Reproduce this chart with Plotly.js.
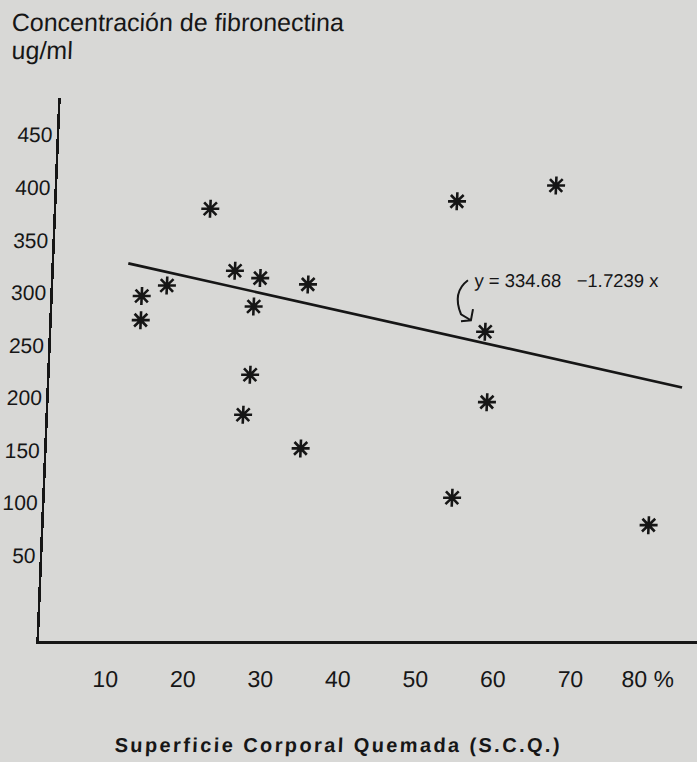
<!DOCTYPE html>
<html>
<head>
<meta charset="utf-8">
<script src="https://cdn.plot.ly/plotly-3.0.1.min.js"></script>
<style>
html,body{margin:0;padding:0;background:#d8d8d6;overflow:hidden;width:697px;height:762px;}
#chart{position:absolute;left:-40px;top:0;width:777px;height:762px;transform:skewX(-2.3deg);transform-origin:0 640px;}
</style>
</head>
<body>
<div id="chart"></div>
<script>
// Superficie corporal quemada (%) vs concentración de fibronectina (ug/ml)
const scqPercent = [21.1, 24.6, 27.9, 34.1, 15.9, 12.7, 12.7, 27.2, 27.1, 26.4, 34.0, 52.9, 65.6, 57.2, 57.8, 53.8, 79.3];
const fibronectina = [380, 321, 314, 308, 307, 297, 274, 287, 222, 184, 152, 387, 402, 263, 196, 105, 79];

// regression line as drawn
const lineX = [10.8, 82.9];
const lineY = [328, 210];

const xTickVals = [10, 20, 30, 40, 50, 60, 70, 80];
const xTickText = ['10', '20', '30', '40', '50', '60', '70', '80 %'];
const yTickVals = [50, 100, 150, 200, 250, 300, 350, 400, 450];
const yTickText = ['50', '100', '150', '200', '250', '300', '350', '400', '450'];

const yTitle1 = 'Concentración de fibronectina';
const yTitle2 = 'ug/ml';
const xTitle = 'Superficie Corporal Quemada (S.C.Q.)';
const equation = 'y = 334.68\u00A0\u00A0 \u22121.7239 x';

const ink = '#161616';
const bg = '#d8d8d6';
const FONT = '"Liberation Sans", Arial, Helvetica, sans-serif';

const traces = [
  {
    type: 'scatter', mode: 'lines', x: lineX, y: lineY,
    line: {color: ink, width: 2.6}, hoverinfo: 'skip'
  },
  {
    type: 'scatter', mode: 'markers', x: scqPercent, y: fibronectina,
    marker: {symbol: 'asterisk-open', size: 15, color: ink, line: {color: ink, width: 2.6}}
  }
];

const layout = {
  width: 777, height: 762,
  margin: {l: 79, r: 40, t: 98, b: 121, pad: 0},
  paper_bgcolor: bg, plot_bgcolor: bg,
  showlegend: false,
  font: {family: FONT, color: ink},
  xaxis: {
    range: [1.23, 86.14], tickvals: xTickVals, ticktext: xTickText,
    showline: true, linewidth: 2.6, linecolor: ink, showgrid: false, zeroline: false,
    ticks: '', tickfont: {family: FONT, size: 23, color: ink}, ticklabelstandoff: 16
  },
  yaxis: {
    range: [-31.2, 485.3], tickvals: yTickVals, ticktext: yTickText,
    showline: true, linewidth: 2.6, linecolor: ink, showgrid: false, zeroline: false,
    ticks: '', tickfont: {family: FONT, size: 21, color: ink}, ticklabelstandoff: 0
  },
  shapes: [
    {
      type: 'path', xref: 'x', yref: 'y',
      path: 'M54.72,312 Q52.71,300.6 54.0,279.6 L55.31,273.9 M54.03,272.9 L55.31,273.9 L55.52,284.4',
      line: {color: ink, width: 2}
    }
  ],
  annotations: [
    {text: yTitle1, xref: 'paper', yref: 'paper', x: -0.082, y: 1.140, xanchor: 'left', yanchor: 'middle',
     showarrow: false, font: {family: FONT, size: 25, color: ink}},
    {text: yTitle2, xref: 'paper', yref: 'paper', x: -0.080, y: 1.088, xanchor: 'left', yanchor: 'middle',
     showarrow: false, font: {family: FONT, size: 25, color: ink}},
    {text: xTitle, xref: 'paper', yref: 'paper', x: 0.4608, y: -0.1915, xanchor: 'center', yanchor: 'middle',
     showarrow: false, font: {family: FONT, size: 20, color: ink, weight: 'bold'}},
    {text: equation, xref: 'x', yref: 'y', x: 55.35, y: 312, xanchor: 'left', yanchor: 'middle',
     showarrow: false, font: {family: FONT, size: 18.5, color: ink}}
  ]
};

Plotly.newPlot('chart', traces, layout, {staticPlot: true, displayModeBar: false}).then(function () {
  document.querySelectorAll('.annotation-text').forEach(function (t) {
    if (t.textContent.indexOf('Superficie') === 0) t.style.letterSpacing = '2.4px';
  });
});
</script>
</body>
</html>
